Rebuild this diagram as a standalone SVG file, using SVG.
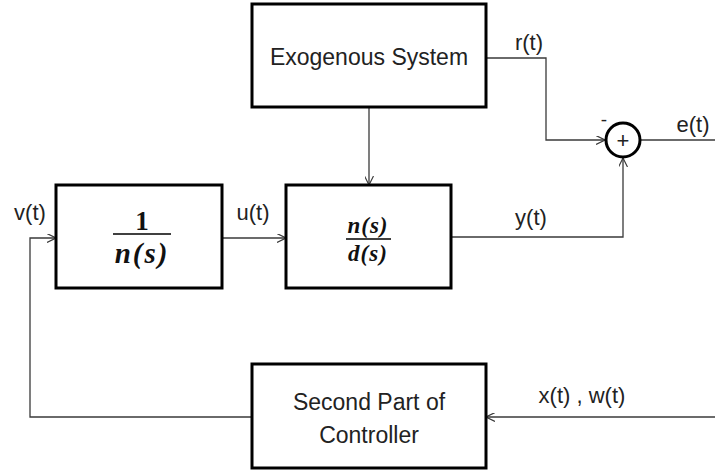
<svg xmlns="http://www.w3.org/2000/svg" width="715" height="476" viewBox="0 0 715 476">
<style>
.box{fill:#fff;stroke:#000;stroke-width:3}
.ln{fill:none;stroke:#3a3a3a;stroke-width:1.3}
.t{font-family:"Liberation Sans",Arial,sans-serif;font-size:23px;fill:#222;text-anchor:middle}
.lb{font-family:"Liberation Sans",Arial,sans-serif;font-size:22px;fill:#222;text-anchor:middle}
.m{font-family:"Liberation Serif","Times New Roman",serif;font-style:italic;font-weight:bold;fill:#111;text-anchor:middle}
.n{font-family:"Liberation Serif","Times New Roman",serif;font-weight:bold;fill:#111;text-anchor:middle}
</style>
<defs>
<marker id="ar" viewBox="0 0 10 10" refX="10" refY="5" markerWidth="9" markerHeight="9" markerUnits="userSpaceOnUse" orient="auto">
<path d="M0,0 L10,5 L0,10" fill="none" stroke="#3a3a3a" stroke-width="1.3"/>
</marker>
</defs>
<rect width="715" height="476" fill="#fff"/>
<g id="connectors">
<path class="ln" d="M486,58 H546 V140 H605" marker-end="url(#ar)"/>
<path class="ln" d="M369,107 V185" marker-end="url(#ar)"/>
<path class="ln" d="M222,238 H286" marker-end="url(#ar)"/>
<path class="ln" d="M451,237 H623 V158" marker-end="url(#ar)"/>
<path class="ln" d="M641,140 H715"/>
<path class="ln" d="M252,417 H30 V238 H56" marker-end="url(#ar)"/>
<path class="ln" d="M715,417 H486" marker-end="url(#ar)"/>
</g>
<g id="exo">
<rect class="box" x="252" y="4" width="234" height="103"/>
<text class="t" x="369" y="65">Exogenous System</text>
</g>
<g id="sum">
<circle cx="623" cy="140" r="17" fill="#fff" stroke="#000" stroke-width="3"/>
<text class="lb" x="623" y="148" style="font-size:22px">+</text>
<text class="lb" x="604" y="126" style="font-size:19px">-</text>
</g>
<g id="block1">
<rect class="box" x="56" y="185" width="166" height="103"/>
<text class="n" x="142" y="230" style="font-size:27px">1</text>
<line x1="113" y1="234" x2="171" y2="234" stroke="#000" stroke-width="1.6"/>
<text class="m" x="142" y="263" style="font-size:29px;letter-spacing:2px">n(s)</text>
</g>
<g id="block2">
<rect class="box" x="286" y="185" width="165" height="103"/>
<text class="m" x="368" y="233" style="font-size:23px;letter-spacing:1px">n(s)</text>
<line x1="346" y1="239" x2="391" y2="239" stroke="#000" stroke-width="1.5"/>
<text class="m" x="368" y="261" style="font-size:23px;letter-spacing:1px">d(s)</text>
</g>
<g id="controller">
<rect class="box" x="252" y="364" width="234" height="104"/>
<text class="t" x="369" y="410">Second Part of</text>
<text class="t" x="369" y="443">Controller</text>
</g>
<g id="labels">
<text class="lb" x="529" y="50">r(t)</text>
<text class="lb" x="693" y="132">e(t)</text>
<text class="lb" x="30" y="220">v(t)</text>
<text class="lb" x="253" y="220">u(t)</text>
<text class="lb" x="531" y="225">y(t)</text>
<text class="lb" x="582" y="403">x(t) , w(t)</text>
</g>
</svg>
